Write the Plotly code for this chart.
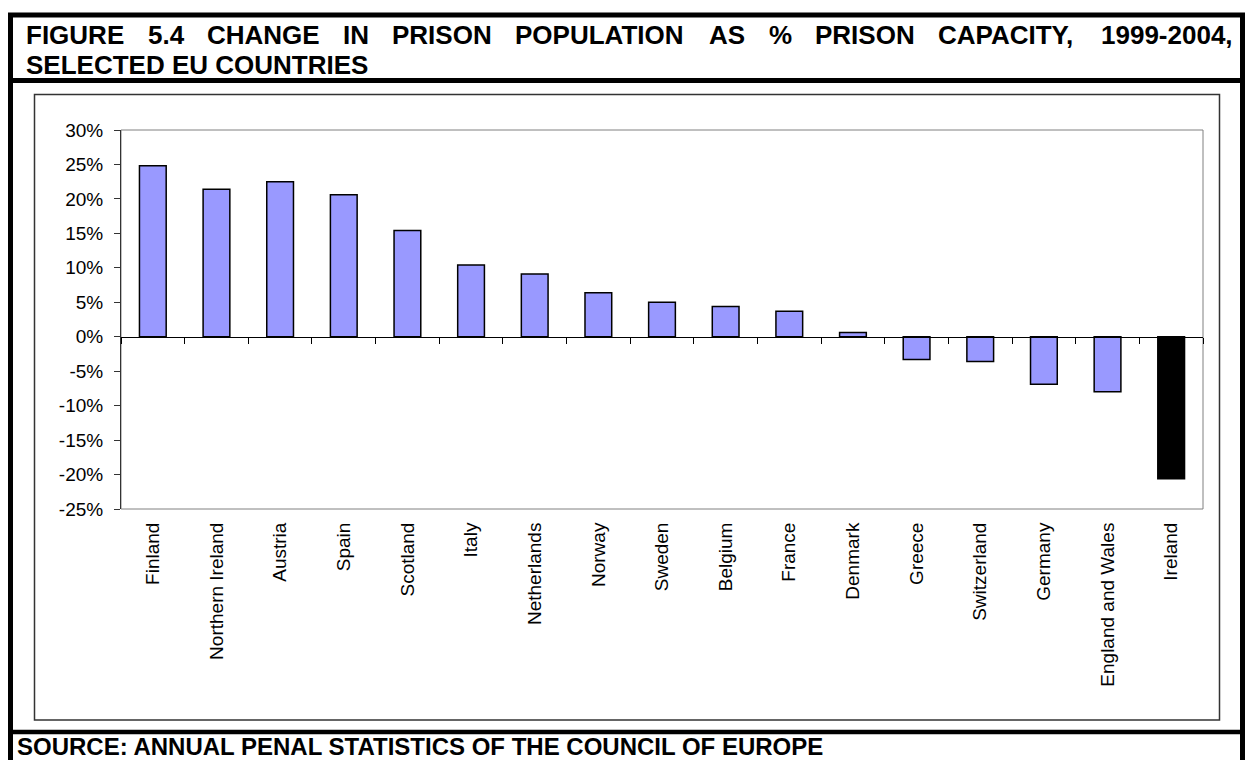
import plotly.graph_objects as go

countries = ["Finland", "Northern Ireland", "Austria", "Spain", "Scotland", "Italy",
             "Netherlands", "Norway", "Sweden", "Belgium", "France", "Denmark",
             "Greece", "Switzerland", "Germany", "England and Wales", "Ireland"]
change_pct = [24.8, 21.4, 22.5, 20.6, 15.4, 10.4, 9.1, 6.4, 5.0, 4.4, 3.7, 0.6,
              -3.3, -3.6, -6.9, -8.0, -20.6]
y_tick_vals = [-25, -20, -15, -10, -5, 0, 5, 10, 15, 20, 25, 30]
y_tick_text = ["-25%", "-20%", "-15%", "-10%", "-5%", "0%", "5%", "10%", "15%", "20%", "25%", "30%"]
highlight = "Ireland"

title_line1 = "FIGURE 5.4 CHANGE IN PRISON POPULATION AS % PRISON CAPACITY, 1999-2004,"
title_line2 = "SELECTED EU COUNTRIES"
source_text = "SOURCE: ANNUAL PENAL STATISTICS OF THE COUNCIL OF EUROPE"

W, H = 1246, 760
L, R, T, B = 121, 1203, 130, 509
PW, PH = R - L, B - T


def px(x):
    return (x - L) / PW


def py(y):
    return (B - y) / PH


FONT = "Liberation Sans, Arial, sans-serif"
TITLE_SIZE = 26

# Arial/Liberation Sans Bold advance widths (per 1000 em) for justifying the title line
BOLD_W = {"A": 722, "C": 722, "E": 667, "F": 611, "G": 778, "H": 722, "I": 278,
          "L": 611, "N": 722, "O": 778, "P": 667, "R": 722, "S": 667, "T": 611,
          "U": 722, "Y": 667, ".": 278, ",": 278, "-": 333, "%": 889}


def word_width(w, size):
    return sum(BOLD_W.get(ch, 556) for ch in w) / 1000.0 * size


bar_colors = ["#000000" if c == highlight else "#9999FF" for c in countries]

fig = go.Figure()
fig.add_trace(go.Bar(
    x=countries, y=change_pct,
    marker=dict(color=bar_colors, line=dict(color="#000000", width=1.5)),
    hoverinfo="skip", showlegend=False,
))
# invisible trace to carry the zero-line axis with boundary ticks
fig.add_trace(go.Scatter(
    x=countries, y=[0] * len(countries), xaxis="x2", mode="markers",
    marker=dict(opacity=0), hoverinfo="skip", showlegend=False,
))

# justified first title line: one annotation per word
words = title_line1.split(" ")
line_x0, line_x1 = 25, 1232
widths = [word_width(w, TITLE_SIZE) for w in words]
gap = (line_x1 - line_x0 - sum(widths)) / (len(words) - 1)
title_annots = []
cur = line_x0
for w, ww in zip(words, widths):
    title_annots.append(dict(
        text="<b>" + w + "</b>", xref="paper", yref="paper",
        x=px(cur), y=py(19), xanchor="left", yanchor="top", showarrow=False,
        borderpad=0, font=dict(family=FONT, size=TITLE_SIZE, color="black")))
    cur += ww + gap

fig.update_layout(
    width=W, height=H,
    margin=dict(l=L, r=W - R, t=T, b=H - B),
    paper_bgcolor="white", plot_bgcolor="white",
    bargap=0.58,
    font=dict(family=FONT, color="black", size=19),
    xaxis=dict(
        type="category", range=[-0.5, len(countries) - 0.5],
        showline=False, showgrid=False, zeroline=False,
        tickangle=-90, ticks="outside", ticklen=5, tickcolor="rgba(0,0,0,0)",
        tickfont=dict(family=FONT, size=19, color="black"),
    ),
    xaxis2=dict(
        type="category", range=[-0.5, len(countries) - 0.5],
        overlaying="x", anchor="free", position=25 / 55,
        showline=True, linecolor="#000000", linewidth=1,
        ticks="outside", ticklen=6, tickwidth=1, tickcolor="#000000",
        tickson="boundaries", showticklabels=False, showgrid=False, zeroline=False,
    ),
    yaxis=dict(
        range=[-25, 30], tickvals=y_tick_vals, ticktext=y_tick_text,
        showline=True, linecolor="#333333", linewidth=1,
        ticks="outside", ticklen=6, tickcolor="#333333",
        showgrid=False, zeroline=False,
        tickfont=dict(family=FONT, size=19, color="black"),
        ticklabelstandoff=7,
    ),
    shapes=[
        # plot area border
        dict(type="rect", xref="paper", yref="paper", x0=0, x1=1, y0=0, y1=1,
             line=dict(color="#808080", width=1), layer="below"),
        # inner chart frame
        dict(type="rect", xref="paper", yref="paper", x0=px(34.5), x1=px(1219.5),
             y0=py(720), y1=py(94.5), line=dict(color="#333333", width=1.5)),
        # outer border
        dict(type="rect", xref="paper", yref="paper", x0=px(10.5), x1=px(1242.5),
             y0=py(800), y1=py(15), line=dict(color="black", width=5)),
        # title separator
        dict(type="line", xref="paper", yref="paper", x0=px(10.5), x1=px(1242.5),
             y0=py(80.5), y1=py(80.5), line=dict(color="black", width=5)),
        # source separator
        dict(type="line", xref="paper", yref="paper", x0=px(10.5), x1=px(1242.5),
             y0=py(732), y1=py(732), line=dict(color="black", width=4.5)),
    ],
    annotations=title_annots + [
        dict(text="<b>" + title_line2 + "</b>", xref="paper", yref="paper",
             x=px(25), y=py(49), xanchor="left", yanchor="top", showarrow=False,
             borderpad=0, font=dict(family=FONT, size=TITLE_SIZE, color="black")),
        dict(text="<b>" + source_text + "</b>", xref="paper", yref="paper",
             x=px(16), y=py(732), xanchor="left", yanchor="top", showarrow=False,
             borderpad=0, font=dict(family=FONT, size=24, color="black")),
    ],
)

fig.write_html("out.html")
